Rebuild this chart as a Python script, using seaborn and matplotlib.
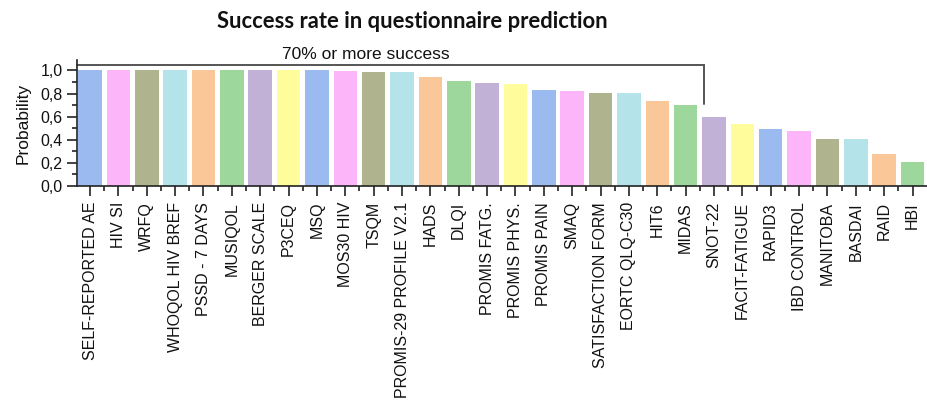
import numpy as np
import pandas as pd
import seaborn as sns
import matplotlib.pyplot as plt
from matplotlib.ticker import FixedLocator, MultipleLocator, FuncFormatter

# Questionnaires ordered by prediction success
questionnaires = [
    "SELF-REPORTED AE", "HIV SI", "WRFQ", "WHOQOL HIV BREF", "PSSD - 7 DAYS",
    "MUSIQOL", "BERGER SCALE", "P3CEQ", "MSQ", "MOS30 HIV", "TSQM",
    "PROMIS-29 PROFILE V2.1", "HADS", "DLQI", "PROMIS FATG.", "PROMIS PHYS.",
    "PROMIS PAIN", "SMAQ", "SATISFACTION FORM", "EORTC QLQ-C30", "HIT6",
    "MIDAS", "SNOT-22", "FACIT-FATIGUE", "RAPID3", "IBD CONTROL", "MANITOBA",
    "BASDAI", "RAID", "HBI",
]
probability = [
    1.00, 1.00, 1.00, 1.00, 1.00, 1.00, 1.00, 1.00, 1.00, 0.994, 0.990,
    0.987, 0.939, 0.907, 0.888, 0.882, 0.830, 0.824, 0.806, 0.801, 0.737,
    0.703, 0.596, 0.536, 0.490, 0.478, 0.406, 0.404, 0.274, 0.207,
]
bar_colors = ["#9ABAF0", "#FCB5F8", "#AFB38E", "#B5E3EA",
              "#FAC799", "#9DD79C", "#C2B1D6", "#FFFD9B"]

success_threshold = 0.70
ytick_values = [0.0, 0.2, 0.4, 0.6, 0.8, 1.0]

sns.set_theme(style="ticks")
plt.rcParams["font.family"] = ["Liberation Sans", "DejaVu Sans"]

W, H = 927, 404
fig = plt.figure(figsize=(W / 100, H / 100), dpi=100)
ax = fig.add_axes([77 / W, 1 - 186 / H, 850 / W, (186 - 60) / H])

df = pd.DataFrame({"questionnaire": questionnaires, "probability": probability})
palette = [bar_colors[i % len(bar_colors)] for i in range(len(questionnaires))]
sns.barplot(data=df, x="questionnaire", y="probability", hue="questionnaire",
            palette=palette, legend=False, width=0.83, saturation=1,
            edgecolor="none", ax=ax)

n = len(questionnaires)
ax.set_xlim(-0.46, n - 0.49)
ax.set_ylim(0, 1.09)

# axis styling
for side in ("top", "right"):
    ax.spines[side].set_visible(False)
for side in ("left", "bottom"):
    ax.spines[side].set_linewidth(1.2)
    ax.spines[side].set_color("#222222")

ax.xaxis.set_major_locator(FixedLocator(np.arange(n)))
ax.xaxis.set_minor_locator(FixedLocator(np.arange(n - 1) + 0.5))
ax.set_xticklabels(questionnaires, rotation=90, fontsize=11.5)
ax.yaxis.set_major_locator(FixedLocator(ytick_values))
ax.yaxis.set_minor_locator(MultipleLocator(0.1))
ax.yaxis.set_major_formatter(FuncFormatter(lambda v, p: f"{v:.1f}".replace(".", ",")))
ax.tick_params(axis="both", which="major", direction="out", length=7.5,
               width=1.2, color="#222222", labelcolor="#111111")
ax.tick_params(axis="both", which="minor", direction="out", length=3.8,
               width=1.2, color="#222222")
ax.tick_params(axis="x", which="major", pad=4, labelsize=11.5)
ax.tick_params(axis="y", which="major", pad=3, labelsize=11.5)

ax.set_xlabel("")
ax.set_ylabel("Probability", fontsize=12.5, color="#111111")
ax.yaxis.set_label_coords((31 - 77) / 850, 0.5)

# bracket over the questionnaires reaching the success threshold
n_high = int(np.sum(np.array(probability) >= success_threshold))
x_end = n_high - 0.35
y_top = 1.046
ax.plot([-0.46, x_end, x_end], [y_top, y_top, success_threshold + 0.009],
        color="#555555", lw=1.4, clip_on=False, solid_joinstyle="miter")
ax.text(9.73, 1.141, "70% or more success", ha="center", va="center",
        fontsize=12.5, color="#111111", clip_on=False)

fig.text(412 / W, 1 - 21.5 / H, "Success rate in questionnaire prediction",
         ha="center", va="center", fontsize=15.8, fontweight="bold",
         family=["Lato", "DejaVu Sans"], color="#111111")

fig.savefig("out.png", dpi=100)
